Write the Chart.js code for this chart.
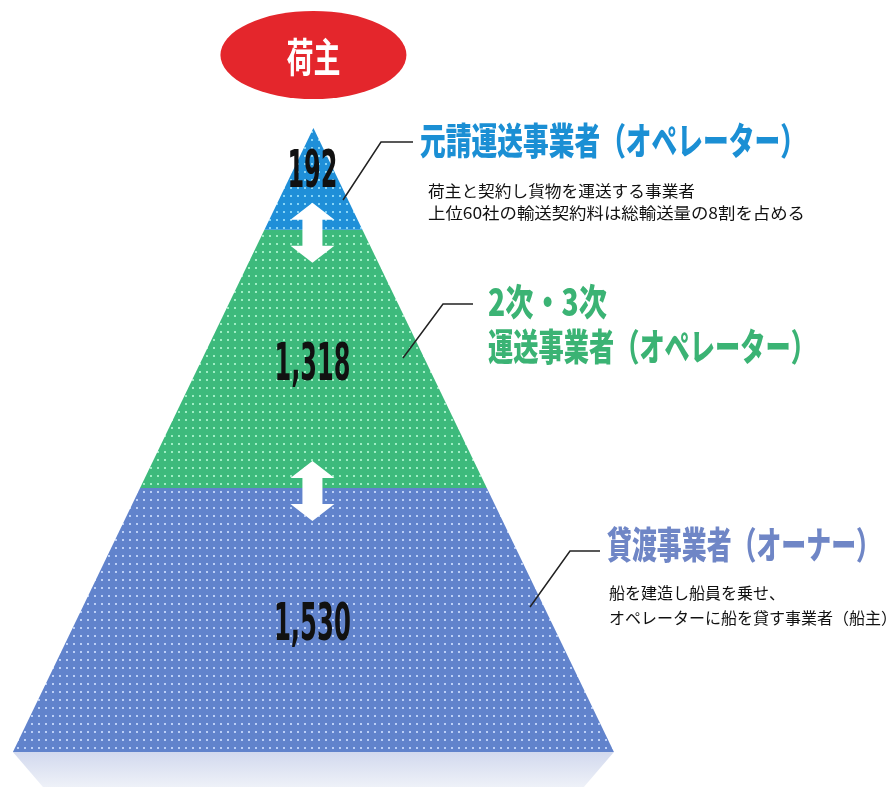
<!DOCTYPE html>
<html>
<head>
<meta charset="utf-8">
<script src="https://cdn.jsdelivr.net/npm/chart.js@4/dist/chart.umd.min.js"></script>
<style>
  html, body { margin: 0; padding: 0; background: #fff; }
  #pyramid { display: block; }
</style>
</head>
<body>
<canvas id="pyramid" width="888" height="787"></canvas>
<script>
// tiers, top to bottom
const topLabel = '荷主';
const tierTitles = [
  ['元請運送事業者（オペレーター）'],
  ['2次・3次', '運送事業者（オペレーター）'],
  ['貸渡事業者（オーナー）']
];
const tierNotes = [
  ['荷主と契約し貨物を運送する事業者', '上位60社の輸送契約料は総輸送量の8割を占める'],
  [],
  ['船を建造し船員を乗せ、', 'オペレーターに船を貸す事業者（船主）']
];
const tierCounts = [192, 1318, 1530];
// pyramid height: apex = 1, base = 0
const tierLevels = [1, 0.837, 0.423, 0];

// colours
const tierFill = ['#1f8fd8', '#3dba7c', '#6183cc'];
const tierDots = ['#86d4f7', '#9eeec4', '#bbcff7'];
const titleColors = ['#1b8fd4', '#3bb374', '#6f86c6'];

// page layout for the callouts (pixels)
const titleBoxes = [
  [{ x: 420, y: 141, w: 386 }],
  [{ x: 488, y: 302, w: 119 }, { x: 488, y: 347, w: 328 }],
  [{ x: 607, y: 545, w: 274 }]
];
const noteBoxes = [
  [{ x: 428, y: 191, w: 267 }, { x: 428, y: 213, w: 377 }],
  [],
  [{ x: 609, y: 593 }, { x: 609, y: 618 }]
];
const leaders = [
  [[343, 200], [381, 142], [413, 142]],
  [[403, 358], [443, 304], [473, 304]],
  [[530, 607], [570, 551], [600, 551]]
];
const numberBaselines = [0.905, 0.596, 0.179];
const numberWidths = [50, 76, 77];

function dotPattern(fill, dot) {
  const c = document.createElement('canvas');
  c.width = 7; c.height = 8;
  const g = c.getContext('2d');
  g.fillStyle = fill;
  g.fillRect(0, 0, 7, 8);
  g.fillStyle = dot;
  g.fillRect(3, 3, 2, 2);
  return g.createPattern(c, 'repeat');
}

function tierShape(i) {
  const top = tierLevels[i], bottom = tierLevels[i + 1];
  return [
    { x: -(1 - bottom), y: bottom },
    { x: 1 - bottom, y: bottom },
    { x: 1 - top, y: top },
    { x: -(1 - top), y: top },
    { x: -(1 - bottom), y: bottom }
  ];
}

const datasets = tierCounts.map((v, i) => ({
  label: tierTitles[i].join(''),
  data: tierShape(i),
  showLine: true,
  fill: 'shape',
  backgroundColor: dotPattern(tierFill[i], tierDots[i]),
  borderColor: 'transparent',
  borderWidth: 0,
  pointRadius: 0,
  tension: 0
}));

// pale floor under the pyramid
datasets.push({
  label: 'floor',
  data: [{ x: -1, y: 0 }, { x: 1, y: 0 }, { x: 0.9, y: -0.056 }, { x: -0.9, y: -0.056 }, { x: -1, y: 0 }],
  showLine: true,
  fill: 'shape',
  backgroundColor: function(context) {
    const chart = context.chart;
    if (!chart.chartArea) return '#dde2f1';
    const y0 = chart.scales.y.getPixelForValue(0);
    const g = chart.ctx.createLinearGradient(0, y0, 0, chart.chartArea.bottom);
    g.addColorStop(0, '#d2d9ee');
    g.addColorStop(1, '#eef1f8');
    return g;
  },
  borderColor: 'transparent',
  borderWidth: 0,
  pointRadius: 0
});

function fitText(ctx, text, x, y, w, center) {
  const m = ctx.measureText(text).width;
  ctx.save();
  ctx.translate(x, y);
  ctx.scale(w / m, 1);
  ctx.textAlign = 'left';
  ctx.fillText(text, center ? -m / 2 : 0, 0);
  ctx.restore();
}

function drawArrow(ctx, cx, cy) {
  const h = 30, head = 17, hw = 22, sw = 10;
  ctx.beginPath();
  ctx.moveTo(cx, cy - h);
  ctx.lineTo(cx + hw, cy - h + head);
  ctx.lineTo(cx + sw, cy - h + head);
  ctx.lineTo(cx + sw, cy + h - head);
  ctx.lineTo(cx + hw, cy + h - head);
  ctx.lineTo(cx, cy + h);
  ctx.lineTo(cx - hw, cy + h - head);
  ctx.lineTo(cx - sw, cy + h - head);
  ctx.lineTo(cx - sw, cy - h + head);
  ctx.lineTo(cx - hw, cy - h + head);
  ctx.closePath();
  ctx.fillStyle = '#ffffff';
  ctx.fill();
}

const decorations = {
  id: 'decorations',
  afterDatasetsDraw(chart) {
    const ctx = chart.ctx;
    const xs = chart.scales.x, ys = chart.scales.y;
    const cx = xs.getPixelForValue(0);

    // arrows between tiers
    for (let i = 1; i < tierLevels.length - 1; i++) {
      drawArrow(ctx, cx - 1, ys.getPixelForValue(tierLevels[i]) + 3);
    }

    // shipper ellipse above the apex
    ctx.save();
    ctx.beginPath();
    ctx.ellipse(cx, 55, 93, 44, 0, 0, Math.PI * 2);
    ctx.fillStyle = '#e4262c';
    ctx.fill();
    ctx.fillStyle = '#ffffff';
    ctx.font = 'bold 40px "Noto Sans CJK JP", sans-serif';
    ctx.textBaseline = 'middle';
    fitText(ctx, topLabel, cx, 57, 54, true);
    ctx.restore();

    // counts
    ctx.save();
    ctx.fillStyle = '#111111';
    ctx.font = 'bold 52px "Liberation Sans Narrow", "DejaVu Sans Condensed", "Liberation Sans", sans-serif';
    ctx.textBaseline = 'alphabetic';
    tierCounts.forEach((v, i) => {
      fitText(ctx, v.toLocaleString('en-US'), cx - 1, ys.getPixelForValue(numberBaselines[i]), numberWidths[i], true);
    });
    ctx.restore();

    // leader lines
    ctx.save();
    ctx.strokeStyle = '#222222';
    ctx.lineWidth = 1.5;
    leaders.forEach(pts => {
      ctx.beginPath();
      pts.forEach((p, k) => k ? ctx.lineTo(p[0], p[1]) : ctx.moveTo(p[0], p[1]));
      ctx.stroke();
    });
    ctx.restore();

    // titles and notes
    ctx.save();
    ctx.textBaseline = 'middle';
    tierTitles.forEach((lines, i) => {
      ctx.fillStyle = titleColors[i];
      ctx.font = '900 37px "Noto Sans CJK JP", sans-serif';
      lines.forEach((t, k) => {
        const b = titleBoxes[i][k];
        fitText(ctx, t, b.x, b.y, b.w, false);
      });
      ctx.fillStyle = '#111111';
      ctx.font = '16px "Noto Sans CJK JP", sans-serif';
      tierNotes[i].forEach((t, k) => {
        const b = noteBoxes[i][k];
        if (b.w) fitText(ctx, t, b.x, b.y, b.w, false);
        else ctx.fillText(t, b.x, b.y);
      });
    });
    ctx.restore();
  }
};

new Chart(document.getElementById('pyramid'), {
  type: 'scatter',
  data: { datasets },
  options: {
    responsive: false,
    animation: false,
    layout: { padding: 0 },
    plugins: {
      legend: { display: false },
      tooltip: { enabled: false },
      title: { display: false }
    },
    scales: {
      x: { type: 'linear', min: -1.043, max: 1.912, display: false },
      y: { type: 'linear', min: -0.056, max: 1.205, display: false }
    }
  },
  plugins: [decorations]
});
</script>
</body>
</html>
